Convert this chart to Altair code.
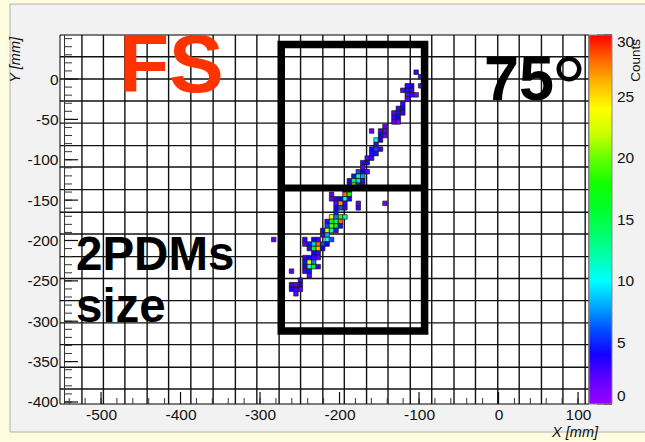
import altair as alt
import pandas as pd

# ---------------- data ----------------
X_DOMAIN = [-551.6, 113.8]        # mm
Y_DOMAIN = [-402.5, 54.5]         # mm
BIN_MM = 5.6                      # histogram bin size (mm)

# detector grid (MAPMT boundaries), mm
GRID_X = [-524, -497, -470, -442, -415, -387, -359, -331, -304, -276, -249,
          -221, -194, -166, -139, -111, -84, -56, -29, -1, 26, 54, 81, 109]
GRID_Y = [27.6, 0, -27.3, -54.6, -82.5, -109, -137, -165, -192, -220, -247,
          -274.5, -302, -329, -357, -384]

X_LABELS = [-500, -400, -300, -200, -100, 0, 100]
Y_LABELS = [-400, -350, -300, -250, -200, -150, -100, -50, 0]
X_MINOR = list(range(-540, 111, 20))
Y_MINOR = list(range(-400, 51, 10))
Z_LABELS = [0, 5, 10, 15, 20, 25, 30]
Z_MINOR = list(range(0, 31, 1))

# "2PDMs size" box (mm) and its middle divider
BOX_X = [-273.3, -93.0]
BOX_Y = [42.7, -312.1]
BOX_MID_Y = [-135.0]

# track cells: (x bin, y bin, counts)
TRACK_CELLS = [
    (-19, 1, 3), (-18, 0, 2), (-18, -2, 1),
    (-21, -2, 3), (-20, -2, 4),
    (-22, -3, 2), (-21, -3, 5), (-20, -3, 3),
    (-21, -4, 2), (-20, -4, 3), (-19, -4, 1),
    (-21, -5, 2),
    (-22, -6, 3),
    (-23, -7, 3), (-22, -7, 4),
    (-24, -8, 2), (-23, -8, 5), (-22, -8, 3),
    (-24, -9, 3), (-23, -9, 4),
    (-24, -10, 2), (-23, -10, 1),
    (-26, -11, 2),
    (-27, -12, 3), (-26, -12, 2), (-29, -12, 2),
    (-27, -13, 4), (-26, -13, 2),
    (-28, -14, 10), (-27, -14, 4),
    (-28, -15, 3),
    (-29, -16, 4), (-28, -16, 6), (-27, -16, 3),
    (-29, -17, 5), (-28, -17, 3),
    (-30, -18, 2), (-29, -18, 3),
    (-31, -19, 3), (-30, -19, 4),
    (-31, -20, 2),
    (-32, -21, 6), (-31, -21, 4), (-30, -21, 2),
    (-33, -22, 5), (-32, -22, 12), (-31, -22, 8),
    (-34, -23, 4), (-33, -23, 15), (-32, -23, 9), (-31, -23, 3),
    (-34, -24, 3), (-33, -24, 22), (-32, -24, 6), (-31, -24, 2),
    (-35, -25, 5), (-34, -25, 3),
    (-35, -26, 28), (-34, -26, 17), (-38, -26, 2),
    (-35, -27, 10), (-34, -27, 4), (-38, -27, 2), (-37, -27, 3), (-36, -27, 4),
    (-35, -28, 3), (-37, -28, 2), (-36, -28, 27), (-32, -28, 2), (-26, -28, 1),
    (-37, -29, 4), (-36, -29, 6), (-35, -29, 3), (-32, -29, 3),
    (-37, -30, 5),
    (-38, -31, 24), (-37, -31, 7), (-36, -31, 18), (-35, -31, 12),
    (-39, -32, 3), (-38, -32, 17), (-37, -32, 14), (-36, -32, 28),
    (-39, -33, 6), (-38, -33, 20), (-37, -33, 16), (-36, -33, 5),
    (-40, -34, 4), (-39, -34, 22), (-38, -34, 12), (-37, -34, 3),
    (-40, -35, 3), (-39, -35, 8),
    (-39, -36, 10), (-38, -36, 6), (-44, -36, 3), (-42, -36, 4), (-41, -36, 3), (-51, -36, 2),
    (-39, -37, 4), (-44, -37, 2), (-43, -37, 5), (-42, -37, 9), (-41, -37, 28), (-40, -37, 6),
    (-43, -38, 3), (-42, -38, 18), (-41, -38, 26), (-40, -38, 4),
    (-42, -39, 4), (-41, -39, 3),
    (-44, -40, 3), (-43, -40, 4), (-42, -40, 3), (-41, -40, 2),
    (-44, -41, 5), (-43, -41, 23), (-42, -41, 7),
    (-44, -42, 4), (-43, -42, 11), (-42, -42, 16), (-41, -42, 3),
    (-44, -43, 3), (-43, -43, 5), (-47, -43, 2),
    (-43, -44, 2),
    (-45, -45, 3),
    (-45, -46, 4), (-47, -46, 3), (-46, -46, 2),
    (-45, -47, 2), (-47, -47, 4), (-46, -47, 3),
    (-46, -48, 2),
]

# ROOT "rainbow" palette stops
Z_STOPS = [0, 2, 4.5, 7, 10, 12.5, 15, 17.5, 20, 22, 24, 26, 28, 30]
Z_COLORS = ['#9900ff', '#6000ff', '#0000ff', '#0080ff', '#00ffff', '#00ff99',
            '#00ff40', '#00ff00', '#66ff00', '#ccff00', '#ffff00', '#ffbb00',
            '#ff6600', '#ff0000']

# ---------------- layout ----------------
W, H = 529, 369
FONT = "Liberation Sans"

xs = alt.Scale(domain=X_DOMAIN, nice=False, zero=False)
ys = alt.Scale(domain=Y_DOMAIN, nice=False, zero=False)

X_AXIS = alt.Axis(values=X_LABELS, labelExpr="'' + datum.value", ticks=False,
                  domain=False, grid=False, labelFontSize=15.5, labelFont=FONT,
                  labelColor="#111", labelPadding=3, labelOverlap=False,
                  labelFlush=False, title=None, zindex=2)
Y_AXIS = alt.Axis(values=Y_LABELS, labelExpr="'' + datum.value", ticks=False,
                  domain=False, grid=False, labelFontSize=15.5, labelFont=FONT,
                  labelColor="#111", labelPadding=2, labelOverlap=False,
                  labelFlush=False, title=None, zindex=2)

one = pd.DataFrame({"k": [0]})

panel = alt.Chart(one).mark_rect(color="#f2f2f2", stroke="#b0b0b0", strokeWidth=1).encode(
    x=alt.value(-50), x2=alt.value(W + 80), y=alt.value(-31), y2=alt.value(H + 28))
plotbg = alt.Chart(one).mark_rect(fill="white", stroke="#000", strokeWidth=1).encode(
    x=alt.value(0), x2=alt.value(W), y=alt.value(0), y2=alt.value(H))

gx = alt.Chart(pd.DataFrame({"gx": GRID_X})).mark_rule(color="#111", strokeWidth=1.4).encode(
    x=alt.X("gx:Q", scale=xs, axis=X_AXIS), y=alt.value(0), y2=alt.value(H))
gy = alt.Chart(pd.DataFrame({"gy": GRID_Y})).mark_rule(color="#111", strokeWidth=1.4).encode(
    y=alt.Y("gy:Q", scale=ys, axis=Y_AXIS), x=alt.value(0), x2=alt.value(W))

# axis ticks drawn inside the frame (ROOT style)
yaxis_line = alt.Chart(one).mark_rule(color="#333", strokeWidth=1).encode(
    x=alt.value(4.5), y=alt.value(0), y2=alt.value(H))
ytick_minor = alt.Chart(pd.DataFrame({"t": Y_MINOR})).mark_rule(color="#333", strokeWidth=1).encode(
    y=alt.Y("t:Q", scale=ys, axis=Y_AXIS), x=alt.value(4.5), x2=alt.value(12))
ytick_major = alt.Chart(pd.DataFrame({"t": Y_LABELS})).mark_rule(color="#111", strokeWidth=1.2).encode(
    y=alt.Y("t:Q", scale=ys, axis=Y_AXIS), x=alt.value(4.5), x2=alt.value(18))
xtick_minor = alt.Chart(pd.DataFrame({"t": X_MINOR})).mark_rule(color="#333", strokeWidth=1).encode(
    x=alt.X("t:Q", scale=xs, axis=X_AXIS), y=alt.value(H), y2=alt.value(H - 6))
xtick_major = alt.Chart(pd.DataFrame({"t": X_LABELS})).mark_rule(color="#111", strokeWidth=1.2).encode(
    x=alt.X("t:Q", scale=xs, axis=X_AXIS), y=alt.value(H), y2=alt.value(H - 12))

cells = pd.DataFrame(TRACK_CELLS, columns=["i", "j", "counts"])
cells["x0"] = cells["i"] * BIN_MM
cells["x1"] = (cells["i"] + 1) * BIN_MM
cells["y0"] = cells["j"] * BIN_MM
cells["y1"] = (cells["j"] + 1) * BIN_MM

heat = alt.Chart(cells).mark_rect(stroke="#1a1a1a", strokeWidth=0.7).encode(
    x=alt.X("x0:Q", scale=xs, axis=X_AXIS), x2="x1:Q",
    y=alt.Y("y0:Q", scale=ys, axis=Y_AXIS), y2="y1:Q",
    color=alt.Color("counts:Q",
                    scale=alt.Scale(domain=Z_STOPS, range=Z_COLORS, interpolate="rgb"),
                    legend=alt.Legend(orient="none", legendX=W, legendY=0,
                                      direction="vertical", gradientLength=H,
                                      gradientThickness=23, values=Z_LABELS,
                                      labelFontSize=15.5, labelFont=FONT,
                                      labelColor="#111", labelOffset=5, title=None,
                                      gradientStrokeColor="#888",
                                      gradientStrokeWidth=1, padding=0)),
)

box = alt.Chart(pd.DataFrame({"x0": [BOX_X[0]], "x1": [BOX_X[1]],
                              "y0": [BOX_Y[0]], "y1": [BOX_Y[1]]})).mark_rect(
    fillOpacity=0, fill="white", stroke="black", strokeWidth=7.5).encode(
    x=alt.X("x0:Q", scale=xs, axis=X_AXIS), x2="x1:Q",
    y=alt.Y("y0:Q", scale=ys, axis=Y_AXIS), y2="y1:Q")
box_mid = alt.Chart(pd.DataFrame({"ym": BOX_MID_Y, "x0": [BOX_X[0]], "x1": [BOX_X[1]]})).mark_rule(
    color="black", strokeWidth=7).encode(
    y=alt.Y("ym:Q", scale=ys, axis=Y_AXIS),
    x=alt.X("x0:Q", scale=xs, axis=X_AXIS), x2="x1:Q")


def label(txt, x, y, size, color="black", weight="bold", style="normal",
          angle=0, align="left", baseline="alphabetic"):
    return alt.Chart(one).mark_text(text=txt, font=FONT, fontSize=size, fontWeight=weight,
                                    fontStyle=style, color=color, angle=angle,
                                    align=align, baseline=baseline).encode(
        x=alt.value(x), y=alt.value(y))


t_fs = label("FS", 59, 57, 82, color="#ff3300")
t_75 = label("75", 424, 65, 63)
deg = alt.Chart(one).mark_point(shape="circle", filled=False, color="black",
                                strokeWidth=4.5, size=420, opacity=1).encode(
    x=alt.value(509), y=alt.value(34))
t_2pdm = label("2PDMs", 16, 234.5, 47.5)
t_size = label("size", 16, 286.5, 47.5)
t_ytitle = label("Y [mm]", -44, 2, 14.5, color="#111", weight="normal", style="italic",
                 angle=270, align="right", baseline="middle")
t_xtitle = label("X [mm]", 538, 402, 14.5, color="#111", weight="normal", style="italic",
                 align="right")
t_ztitle = label("Counts", 576, 4, 13.5, color="#111", weight="normal",
                 angle=270, align="right", baseline="middle")

main = alt.layer(panel, plotbg, gx, gy, heat, yaxis_line, ytick_minor, ytick_major,
                 xtick_minor, xtick_major, box, box_mid,
                 t_fs, t_75, deg, t_2pdm, t_size, t_ytitle, t_xtitle, t_ztitle)

cbar_minor = alt.Chart(pd.DataFrame({"z": Z_MINOR})).mark_rule(color="#111", strokeWidth=1).encode(
    y=alt.Y("z:Q", scale=alt.Scale(domain=[0, 30], nice=False, zero=False), axis=None),
    x=alt.value(W + 15), x2=alt.value(W + 23))
cbar_major = alt.Chart(pd.DataFrame({"z": Z_LABELS})).mark_rule(color="#111", strokeWidth=1).encode(
    y=alt.Y("z:Q", scale=alt.Scale(domain=[0, 30], nice=False, zero=False), axis=None),
    x=alt.value(W + 8), x2=alt.value(W + 23))

chart = alt.layer(main, alt.layer(cbar_minor, cbar_major)).resolve_scale(
    y="independent"
).properties(
    width=W, height=H,
    autosize=alt.AutoSizeParams(type="none"),
    padding={"left": 60, "top": 35, "right": 56, "bottom": 38},
    background="#fffde0",
).configure_view(stroke=None)

chart.save("out.html", embed_options={"renderer": "svg", "actions": False})
